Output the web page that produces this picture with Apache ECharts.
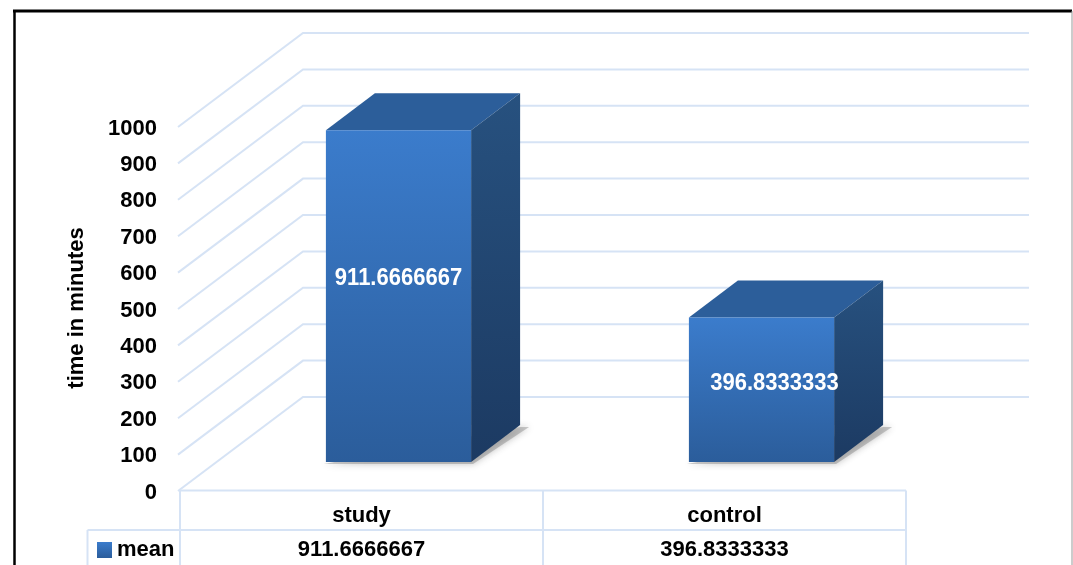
<!DOCTYPE html>
<html>
<head>
<meta charset="utf-8">
<style>html,body{margin:0;padding:0;background:#fff}#c{width:1073px;height:565px}</style>
<script src="https://cdn.jsdelivr.net/npm/echarts@6/dist/echarts.min.js"></script>
</head>
<body>
<div id="c"></div>
<script>
var categories = ['study', 'control'];
var meanValues = [911.6666667, 396.8333333];
var valueTicks = [0, 100, 200, 300, 400, 500, 600, 700, 800, 900, 1000];
var seriesName = 'mean';
var axisTitle = 'time in minutes';

var FAMILY = '"Liberation Sans", Arial, sans-serif';
var FSIZE = 22;
var GRID_COLOR = '#d6e3f5';
var WALL_DX = 123, WALL_DY = -93;
var FRONT_DX = 37, FRONT_DY = -28;
var BAR_DX = 49, BAR_DY = -37;
var LABEL_NUDGE = [[0, 0], [13, 1]];

function vgrad(a, b) {
  return new echarts.graphic.LinearGradient(0, 0, 0, 1, [
    { offset: 0, color: a }, { offset: 1, color: b }
  ]);
}

function renderWalls(params, api) {
  var cs = params.coordSys;
  var y = api.coord([0, api.value(0)])[1];
  var x = cs.x;
  var backX = x + WALL_DX, backY = y + WALL_DY;
  return {
    type: 'polyline',
    silent: true,
    shape: { points: [[x - 2, y + 1], [backX, backY], [cs.x + cs.width + WALL_DX, backY]] },
    style: { fill: null, stroke: GRID_COLOR, lineWidth: 2 }
  };
}

function renderBars(params, api) {
  var idx = api.value(0), val = api.value(1);
  var band = api.size([1, 0])[0];
  var w = band * 0.4;
  var base = api.coord([idx, 0]);
  var top = api.coord([idx, val]);
  var anchor = api.coord([idx, val * 0.554]);
  var cx = base[0] + FRONT_DX;
  var x0 = cx - w / 2, x1 = cx + w / 2;
  var yb = base[1] + FRONT_DY, yt = top[1] + FRONT_DY;
  var nudge = LABEL_NUDGE[idx];
  var lx = cx + nudge[0], ly = anchor[1] + FRONT_DY + nudge[1];
  return {
    type: 'group',
    children: [
      { type: 'polygon',
        shape: { points: [[x0 - 2, yb + 2], [x1 + 2, yb + 2], [x1 + BAR_DX + 9, yb + BAR_DY + 2], [x1 + BAR_DX, yb + BAR_DY + 2]] },
        style: { fill: 'rgba(90,90,90,0.3)', shadowBlur: 7, shadowColor: 'rgba(50,50,50,0.95)' } },
      { type: 'polygon',
        shape: { points: [[x0, yt], [x0 + BAR_DX, yt + BAR_DY], [x1 + BAR_DX, yt + BAR_DY], [x1, yt]] },
        style: { fill: '#2c5e9a' } },
      { type: 'polygon',
        shape: { points: [[x1, yt], [x1 + BAR_DX, yt + BAR_DY], [x1 + BAR_DX, yb + BAR_DY], [x1, yb]] },
        style: { fill: vgrad('#27517f', '#1c3a62') } },
      { type: 'rect',
        shape: { x: x0, y: yt, width: w, height: yb - yt },
        style: { fill: vgrad('#3b7ccc', '#2b5d9b') } },
      { type: 'text',
        scaleY: 1.1, originX: lx, originY: ly,
        style: { text: String(val), x: lx, y: ly, align: 'center', verticalAlign: 'middle', fill: '#fff', font: 'bold ' + FSIZE + 'px ' + FAMILY } }
    ]
  };
}

function renderTable(params, api) {
  var cs = params.coordSys;
  var L = cs.x, R = cs.x + cs.width, T = cs.y + cs.height + 0.5;
  var M = api.coord([0, 0])[0] + api.size([1, 0])[0] / 2;
  var Row = T + 39.5, Bot = 570, Key = L - 92.5;
  var segs = [
    [L, T, R, T], [Key, Row, R, Row],
    [L, T, L, Bot], [M, T, M, Bot], [R, T, R, Bot], [Key, Row, Key, Bot]
  ];
  return {
    type: 'group', silent: true,
    children: segs.map(function (s) {
      return { type: 'line', shape: { x1: s[0], y1: s[1], x2: s[2], y2: s[3] },
        style: { stroke: GRID_COLOR, lineWidth: 2 } };
    })
  };
}

var chart = echarts.init(document.getElementById('c'), null, { renderer: 'canvas' });
chart.setOption({
  animation: false,
  backgroundColor: '#fff',
  grid: { left: 180, top: 126, width: 726, height: 364, containLabel: false, outerBoundsMode: 'none' },
  legend: {
    data: [seriesName], left: 92, top: 534, icon: 'rect', itemWidth: 15, itemHeight: 16,
    itemGap: 4, padding: 5, selectedMode: false,
    textStyle: { color: '#000', fontWeight: 'bold', fontSize: FSIZE, fontFamily: FAMILY }
  },
  xAxis: {
    type: 'category', data: categories,
    axisLine: { show: false }, axisTick: { show: false }, splitLine: { show: false },
    axisLabel: {
      interval: 0, margin: 9, color: '#000', fontWeight: 'bold', fontSize: FSIZE, lineHeight: 34,
      fontFamily: FAMILY,
      formatter: function (v) { return v + '\n' + meanValues[categories.indexOf(v)]; }
    }
  },
  yAxis: {
    type: 'value', min: 0, max: 1000, interval: 100,
    name: axisTitle, nameLocation: 'middle', nameGap: 92,
    nameTextStyle: { color: '#000', fontWeight: 'bold', fontSize: FSIZE, fontFamily: FAMILY, padding: [0, 0, 0, 0] },
    axisLine: { show: false }, axisTick: { show: false }, splitLine: { show: false },
    axisLabel: { margin: 23, color: '#000', fontWeight: 'bold', fontSize: FSIZE, fontFamily: FAMILY,
      verticalAlign: 'top', lineHeight: 5,
      formatter: function (v) { return String(v); } }
  },
  series: [
    { type: 'custom', name: 'walls', silent: true, z: 1, renderItem: renderWalls,
      encode: { y: 0 }, data: valueTicks.map(function (t) { return [t]; }) },
    { type: 'custom', name: 'table', silent: true, z: 1, renderItem: renderTable, data: [[0]] },
    { type: 'custom', name: seriesName, z: 3, renderItem: renderBars,
      itemStyle: { color: vgrad('#3b7ccc', '#2b5d9b') },
      encode: { x: 0, y: 1 },
      data: categories.map(function (c, i) { return [i, meanValues[i]]; }) }
  ],
  graphic: [
    { type: 'line', silent: true, shape: { x1: 14.5, y1: 11, x2: 14.5, y2: 565 }, style: { stroke: '#000', lineWidth: 2.5 } },
    { type: 'line', silent: true, shape: { x1: 13, y1: 11, x2: 1072, y2: 11 }, style: { stroke: '#000', lineWidth: 3 } },
    { type: 'line', silent: true, shape: { x1: 1072, y1: 11, x2: 1072, y2: 565 }, style: { stroke: '#999', lineWidth: 1 } }
  ]
});
</script>
</body>
</html>
